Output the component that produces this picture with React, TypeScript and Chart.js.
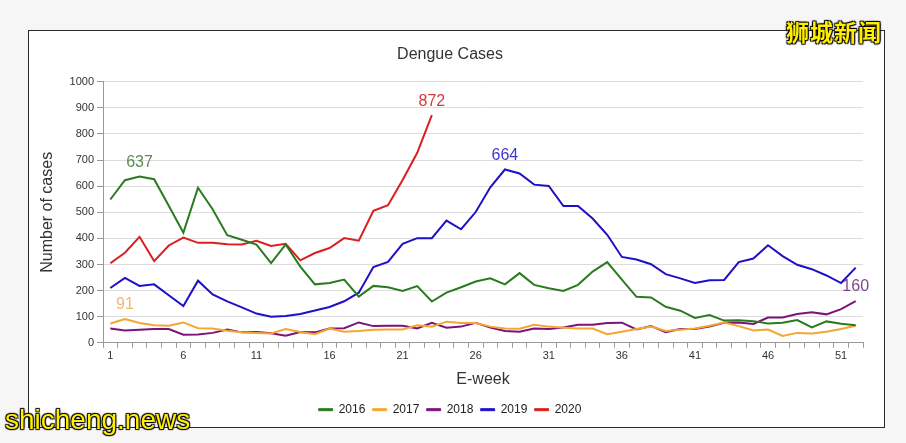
import React, { useEffect, useRef } from "react";
import { Chart, registerables } from "chart.js";

Chart.register(...registerables);

const FONT = "'Liberation Sans', Arial, sans-serif";

const weeks = [
  "1", "2", "3", "4", "5", "6", "7", "8", "9", "10", "11", "12", "13",
  "14", "15", "16", "17", "18", "19", "20", "21", "22", "23", "24", "25", "26",
  "27", "28", "29", "30", "31", "32", "33", "34", "35", "36", "37", "38", "39",
  "40", "41", "42", "43", "44", "45", "46", "47", "48", "49", "50", "51", "52",
];
const xTickLabels = ["1", "6", "11", "16", "21", "26", "31", "36", "41", "46", "51"];

const cases2016 = [
  549, 623, 637, 627, 525, 422, 594, 512, 412, 395, 376, 305, 377, 292,
  224, 229, 242, 177, 218, 213, 199, 217, 158, 192, 213, 235, 247,
  224, 267, 222, 209, 199, 222, 273, 309, 242, 176, 174, 138, 123,
  95, 106, 85, 86, 83, 74, 77, 87, 59, 82, 73, 67,
];
const cases2017 = [
  74, 91, 76, 67, 65, 78, 56, 55, 46, 40, 38, 36, 53, 41,
  33, 55, 42, 45, 50, 51, 51, 67, 62, 81, 76, 76, 62,
  55, 54, 69, 62, 58, 55, 55, 33, 42, 53, 62, 45, 50,
  55, 65, 78, 64, 47, 51, 26, 38, 36, 42, 53, 65,
];
const cases2018 = [
  55, 47, 50, 53, 53, 31, 32, 38, 51, 40, 41, 37, 27, 41,
  40, 55, 56, 78, 64, 65, 65, 55, 77, 58, 62, 77, 58,
  45, 42, 55, 53, 59, 69, 69, 76, 77, 51, 64, 41, 53,
  53, 62, 77, 78, 72, 97, 97, 110, 117, 109, 129, 160,
];
const cases2019 = [
  210, 249, 218, 224, 182, 141, 238, 185, 159, 136, 112, 100, 103, 110,
  124, 137, 159, 192, 290, 310, 379, 401, 401, 468, 435, 501, 596,
  664, 649, 606, 601, 524, 524, 476, 414, 329, 319, 301, 263, 247,
  229, 240, 241, 309, 323, 374, 332, 299, 282, 258, 229, 288,
];
const cases2020 = [
  305, 345, 406, 313, 373, 403, 383, 383, 378, 377, 391, 371, 379, 316,
  344, 363, 401, 391, 506, 527, 624, 728, 872,
];

const seriesNames = ["2016", "2017", "2018", "2019", "2020"];
const seriesData = [cases2016, cases2017, cases2018, cases2019, cases2020];
const lineColors = ["#2a7b1f", "#f5a630", "#7a1478", "#1e10c8", "#dc1e1e"];
const peakLabelColors = ["#5c8c52", "#f2b86e", "#7c4a8c", "#4036d0", "#d83838"];

const peakLabels = {
  id: "peakLabels",
  afterDatasetsDraw(chart: any) {
    const ctx = chart.ctx;
    ctx.save();
    ctx.font = `16px ${FONT}`;
    ctx.textAlign = "center";
    ctx.textBaseline = "middle";
    chart.data.datasets.forEach((ds: any, i: number) => {
      const data = ds.data as number[];
      let mi = 0;
      data.forEach((v, j) => {
        if (v > data[mi]) mi = j;
      });
      const pt = chart.getDatasetMeta(i).data[mi];
      if (!pt) return;
      ctx.fillStyle = peakLabelColors[i];
      ctx.fillText(String(data[mi]), pt.x, pt.y - 14);
    });
    ctx.restore();
  },
};

export default function App() {
  const canvasRef = useRef<HTMLCanvasElement | null>(null);

  useEffect(() => {
    if (!canvasRef.current) return;
    const chart = new Chart(canvasRef.current, {
      type: "line",
      data: {
        labels: weeks,
        datasets: seriesNames.map((name, i) => ({
          label: name,
          data: seriesData[i],
          borderColor: lineColors[i],
          backgroundColor: lineColors[i],
          borderWidth: 2,
          pointRadius: 0,
          pointHoverRadius: 0,
          tension: 0,
          fill: false,
        })),
      },
      options: {
        animation: false,
        responsive: true,
        maintainAspectRatio: false,
        layout: { padding: { left: 8, right: 21, top: 0, bottom: 1.3 } },
        plugins: {
          title: {
            display: true,
            text: "Dengue Cases",
            color: "#333",
            font: { size: 16, family: FONT, weight: "normal" },
            padding: { top: 13.8, bottom: 17.8 },
          },
          legend: {
            position: "bottom",
            labels: {
              boxWidth: 14,
              boxHeight: 2,
              padding: 7.3,
              color: "#222",
              font: { size: 12, family: FONT },
              generateLabels: (c: any) =>
                Chart.defaults.plugins.legend.labels
                  .generateLabels(c)
                  .map((l: any) => ({ ...l, lineWidth: 1 })),
            },
          },
          tooltip: { enabled: false },
        },
        scales: {
          x: {
            type: "category",
            offset: true,
            grid: {
              display: true,
              drawOnChartArea: false,
              drawTicks: true,
              tickLength: 5,
              offset: true,
              tickColor: "#9a9a9a",
            },
            border: { display: true, color: "#9a9a9a" },
            ticks: {
              autoSkip: false,
              maxRotation: 0,
              padding: 2,
              color: "#333",
              font: { size: 11, family: FONT },
              callback: (_v: any, idx: number) =>
                xTickLabels.includes(weeks[idx]) ? weeks[idx] : "",
            },
            title: {
              display: true,
              text: "E-week",
              color: "#333",
              font: { size: 16, family: FONT },
              padding: { top: 0, bottom: 7.7 },
            },
            afterFit: (s: any) => {
              s.height = 53.6;
            },
          },
          y: {
            min: 0,
            max: 1000,
            ticks: {
              stepSize: 100,
              padding: 3,
              color: "#333",
              font: { size: 11, family: FONT },
              callback: (v: any) => String(v),
            },
            grid: { color: "#dcdcdc", tickColor: "#9a9a9a", tickLength: 6 },
            border: { display: true, color: "#9a9a9a" },
            title: {
              display: true,
              text: "Number of cases",
              color: "#333",
              font: { size: 16, family: FONT },
              padding: { top: 1, bottom: 0 },
            },
            afterFit: (s: any) => {
              s.width = 66;
            },
          },
        },
      } as any,
      plugins: [peakLabels],
    });
    return () => chart.destroy();
  }, []);

  return (
    <div
      style={{
        position: "fixed",
        left: 0,
        top: 0,
        width: 906,
        height: 443,
        background: "#f6f6f6",
        overflow: "hidden",
      }}
    >
      <div
        style={{
          position: "absolute",
          left: 28,
          top: 30,
          width: 855,
          height: 396,
          border: "1px solid #2a2a2a",
          background: "#ffffff",
        }}
      >
        <div style={{ position: "relative", width: 855, height: 396 }}>
          <canvas ref={canvasRef} />
        </div>
      </div>
      <div
        style={{
          position: "absolute",
          left: 786,
          top: 14,
          fontFamily: "'Noto Sans CJK SC', sans-serif",
          fontWeight: 700,
          fontSize: 23,
          color: "#ffee00",
          textShadow: "1px 1px 1px #000, -1px -1px 1px #000, 1px -1px 1px #000, -1px 1px 1px #000",
          letterSpacing: 1,
        }}
      >
        狮城新闻
      </div>
      <div
        style={{
          position: "absolute",
          left: 5,
          top: 404,
          fontFamily: FONT,
          fontSize: 28,
          color: "#ffee00",
          textShadow: "1px 1px 1px #000, -1px -1px 1px #000, 1px -1px 1px #000, -1px 1px 1px #000",
        }}
      >
        shicheng.news
      </div>
    </div>
  );
}
